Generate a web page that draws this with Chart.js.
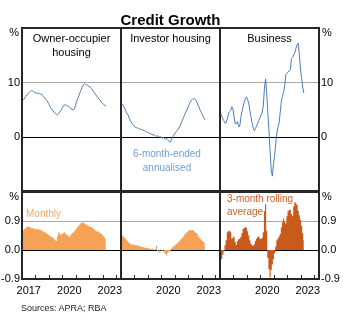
<!DOCTYPE html>
<html>
<head>
<meta charset="utf-8">
<script src="https://cdn.jsdelivr.net/npm/chart.js@4.4.1/dist/chart.umd.min.js"></script>
<style>
    body { margin: 0; background: #fff; font-family: Arial, "Liberation Sans", sans-serif; }
    #wrap { position: relative; width: 347px; height: 324px; overflow: hidden; background: #fff; }
    canvas { position: absolute; }
    .txt { position: absolute; white-space: nowrap; color: #000; }
    .line { position: absolute; background: #262626; z-index: 5; }
</style>
</head>
<body>
<div id="wrap">
    <canvas id="ooTop"></canvas>
    <canvas id="invTop"></canvas>
    <canvas id="busTop"></canvas>
    <canvas id="ooBottom"></canvas>
    <canvas id="invBottom"></canvas>
    <canvas id="busBottom"></canvas>

    <div class="line" style="left:21px; top:27px; width:299px; height:2px;"></div>
    <div class="line" style="left:21px; top:27px; width:2px; height:253px;"></div>
    <div class="line" style="left:318px; top:27px; width:2px; height:253px;"></div>
    <div class="line" style="left:120px; top:27px; width:2px; height:253px;"></div>
    <div class="line" style="left:219px; top:27px; width:2px; height:253px;"></div>
    <div class="line" style="left:21px; top:190px; width:299px; height:3px;"></div>
    <div class="line" style="left:21px; top:278px; width:299px; height:2px;"></div>

    <div class="txt" style="left:0; top:11px; width:341px; text-align:center; font-weight:bold; font-size:15px; line-height:18px;">Credit Growth</div>
    <div class="txt" style="left:22px; top:31px; width:99px; text-align:center; font-size:11px; line-height:14px;">Owner-occupier<br>housing</div>
    <div class="txt" style="left:121px; top:31px; width:99px; text-align:center; font-size:11px; line-height:14px;">Investor housing</div>
    <div class="txt" style="left:220px; top:31px; width:99px; text-align:center; font-size:11px; line-height:14px;">Business</div>

    <div class="txt" style="left:0; top:26px; width:19px; text-align:right; font-size:11px; line-height:13px;">%</div>
    <div class="txt" style="left:322px; top:26px; font-size:11px; line-height:13px;">%</div>
    <div class="txt" style="left:0; top:190px; width:19px; text-align:right; font-size:11px; line-height:13px;">%</div>
    <div class="txt" style="left:322px; top:190px; font-size:11px; line-height:13px;">%</div>

    <div class="txt" style="left:117px; top:147px; width:100px; text-align:center; font-size:10px; line-height:14px; color:#6f9fd0;">6-month-ended<br>annualised</div>
    <div class="txt" style="left:26px; top:208px; font-size:10px; line-height:12px; color:#f4a866;">Monthly</div>
    <div class="txt" style="left:227px; top:192px; font-size:10px; line-height:13px; color:#c9612a;">3-month rolling<br>average</div>
    <div class="txt" style="left:21px; top:303px; font-size:9px; line-height:11px; color:#222;">Sources: APRA; RBA</div>
</div>

<script>
const START_YEAR = 2017;
const X_MAX = 2024.33;

const firstPanelYears = [2017, 2020, 2023];
const otherPanelYears = [2020, 2023];

const upperTicks = [-10, 0, 10, 20];
const upperLabelled = [0, 10];
const lowerTicks = [-0.9, 0, 0.9, 1.8];
const lowerLabelled = [-0.9, 0, 0.9];

// six-month-ended annualised growth, %, monthly Jan 2017 - Mar 2023
const ownerOccAnnualised = [
    6.9, 6.9, 7.2, 7.5, 7.8, 8.0, 8.2, 8.4, 8.5, 8.5, 8.3, 8.2,
    8.1, 8.1, 8.0, 8.0, 7.9, 7.9, 7.6, 7.3, 7.1, 6.9, 6.6, 6.2,
    5.8, 5.4, 5.1, 4.8, 4.6, 4.4, 4.2, 4.1, 4.3, 4.6, 4.9, 5.3,
    5.6, 5.9, 6.0, 5.8, 5.7, 5.7, 5.5, 5.2, 5.1, 5.1, 5.2, 5.8,
    6.5, 7.1, 7.6, 8.2, 8.7, 9.2, 9.6, 9.8, 9.7, 9.6, 9.5, 9.3,
    9.2, 9.0, 8.7, 8.4, 8.1, 7.8, 7.5, 7.2, 7.0, 6.8, 6.4, 6.2,
    6.1, 5.8, 5.7,
];
const investorAnnualised = [
    6.2, 6.0, 5.6, 5.2, 4.7, 4.3, 4.0, 3.4, 3.0, 2.6, 2.3, 2.1,
    1.9, 1.8, 1.7, 1.6, 1.5, 1.5, 1.4, 1.3, 1.3, 1.1, 1.0, 0.9,
    0.9, 0.6, 0.7, 0.5, 0.4, 0.5, 0.3, 0.2, 0.3, 0.1, 0.05, 0.1,
    -0.2, 0.0, -0.2, -0.3, -0.2, -0.5, -0.7, -0.9, -0.6, -0.1, 0.3, 0.6,
    0.9, 1.2, 1.4, 1.7, 2.1, 2.6, 3.1, 3.6, 4.1, 4.6, 5.0, 5.5,
    6.0, 6.4, 6.8, 7.0, 7.1, 7.0, 6.8, 6.4, 5.9, 5.4, 4.9, 4.5,
    4.0, 3.6, 3.2,
];
const businessAnnualised = [
    4.4, 3.9, 3.4, 3.0, 2.6, 2.7, 3.3, 4.3, 4.7, 4.9, 5.6, 5.2,
    3.7, 2.5, 2.5, 2.9, 2.0, 2.0, 3.6, 4.7, 5.6, 6.4, 7.1, 7.4,
    6.9, 6.3, 5.0, 3.8, 2.7, 1.7, 1.2, 1.6, 2.1, 2.6, 3.1, 3.6,
    4.1, 4.6, 5.9, 9.0, 10.7, 8.0, 4.5, 1.3, -2.5, -6.0, -7.1, -5.0,
    -3.3, -1.2, 0.8, 1.8, 2.6, 4.5, 6.6, 7.5, 8.2, 9.5, 11.5, 11.7,
    11.9, 12.2, 12.4, 14.4, 14.6, 15.1, 15.5, 16.3, 16.9, 17.2, 15.2, 12.5,
    10.8, 9.2, 8.1,
];

// monthly growth, %
const ownerOccMonthly = [
    0.60, 0.62, 0.66, 0.70, 0.71, 0.74, 0.71, 0.70, 0.68, 0.67, 0.68, 0.64,
    0.66, 0.64, 0.66, 0.62, 0.63, 0.60, 0.58, 0.57, 0.55, 0.52, 0.50, 0.47,
    0.44, 0.42, 0.40, 0.38, 0.36, 0.30, 0.28, 0.43, 0.55, 0.50, 0.47, 0.49,
    0.52, 0.55, 0.53, 0.46, 0.48, 0.41, 0.43, 0.47, 0.52, 0.54, 0.58, 0.63,
    0.67, 0.72, 0.76, 0.80, 0.84, 0.86, 0.84, 0.82, 0.79, 0.80, 0.76, 0.74,
    0.73, 0.71, 0.70, 0.66, 0.64, 0.60, 0.58, 0.57, 0.55, 0.53, 0.50, 0.47,
    0.42, 0.38, 0.33,
];
const investorMonthly = [
    0.48, 0.45, 0.40, 0.37, 0.32, 0.28, 0.24, 0.22, 0.18, 0.16, 0.18, 0.15,
    0.16, 0.14, 0.16, 0.12, 0.13, 0.10, 0.11, 0.09, 0.08, 0.06, 0.08, 0.05,
    0.06, 0.03, 0.04, 0.02, 0.05, -0.01, 0.03, 0.13, -0.03, 0.01, -0.09, 0.02,
    -0.04, 0.00, -0.08, -0.12, -0.17, -0.10, -0.06, -0.03, 0.04, 0.08, 0.11, 0.13,
    0.17, 0.19, 0.22, 0.26, 0.30, 0.34, 0.38, 0.42, 0.47, 0.52, 0.55, 0.58,
    0.61, 0.62, 0.61, 0.62, 0.60, 0.57, 0.53, 0.52, 0.45, 0.38, 0.35, 0.30,
    0.28, 0.25, 0.22,
];
// business, 3-month rolling average of monthly growth, %
const businessRolling = [
    -0.32, -0.28, -0.15, -0.05, 0.15, 0.30, 0.55, 0.58, 0.60, 0.55, 0.35, 0.38,
    0.42, 0.25, 0.16, 0.28, 0.33, 0.35, 0.40, 0.52, 0.65, 0.68, 0.72, 0.68,
    0.58, 0.45, 0.30, 0.20, 0.15, 0.13, 0.18, 0.28, 0.35, 0.40, 0.42, 0.36,
    0.34, 0.38, 0.55, 1.20, 1.42, 0.60, -0.25, -0.60, -0.85, -0.62, -0.45, -0.28,
    -0.10, 0.10, 0.30, 0.36, 0.42, 0.50, 0.70, 0.86, 0.98, 0.88, 0.82, 1.05,
    1.20, 1.24, 1.25, 1.12, 1.05, 1.35, 1.48, 1.45, 1.40, 1.22, 1.08, 0.94,
    0.75, 0.52, 0.30,
];

const LINE_BLUE = "#4a7db6";
const ORANGE = "#f5a257";
const DARK_ORANGE = "#c85a1c";
const GRID_GREY = "#a9a9a9";
const FONT = { family: "Arial, 'Liberation Sans', sans-serif", size: 11 };

function toPoints(values) {
    return values.map((v, i) => ({ x: START_YEAR + (i + 0.5) / 12, y: v }));
}

function makePanel(id, area, opts) {
    const pad = 10;
    const yw = opts.yPos === "none" ? 0 : 22;
    const xh = opts.years ? 20 : 0;
    const canvas = document.getElementById(id);
    canvas.width = area.w + yw + pad * 2;
    canvas.height = area.h + xh + pad * 2;
    canvas.style.left = area.x - pad - (opts.yPos === "left" ? yw : 0) + "px";
    canvas.style.top = area.y - pad + "px";

    // monthly columns are drawn as one stepped, filled area so no seams show between them
    const dataset = opts.color
        ? {
              data: toPoints(opts.values),
              backgroundColor: opts.color,
              borderWidth: 0,
              pointRadius: 0,
              stepped: "middle",
              fill: "origin",
          }
        : {
              data: toPoints(opts.values),
              borderColor: LINE_BLUE,
              borderWidth: 1,
              pointRadius: 0,
              tension: 0,
              fill: false,
          };

    new Chart(canvas, {
        type: "line",
        data: { datasets: [dataset] },
        options: {
            responsive: false,
            animation: false,
            layout: { padding: pad },
            plugins: { legend: { display: false }, tooltip: { enabled: false } },
            scales: {
                x: {
                    type: "linear",
                    min: START_YEAR,
                    max: X_MAX,
                    offset: false,
                    display: !!opts.years,
                    border: { display: false },
                    grid: {
                        offset: false,
                        drawOnChartArea: false,
                        drawTicks: true,
                        tickLength: -4,
                        tickWidth: 1,
                        tickColor: (ctx) =>
                            ctx.tick && Number.isInteger(ctx.tick.value)
                                ? "#262626"
                                : "rgba(0,0,0,0)",
                    },
                    afterBuildTicks: (s) => {
                        const t = [];
                        for (let v = START_YEAR; v <= 2024; v += 0.5) t.push({ value: v });
                        s.ticks = t;
                    },
                    afterFit: (s) => {
                        s.height = xh;
                    },
                    ticks: {
                        autoSkip: false,
                        maxRotation: 0,
                        padding: 9,
                        color: "#000",
                        font: FONT,
                        callback: (v) => {
                            const year = Math.floor(v);
                            return v - year === 0.5 && opts.years && opts.years.includes(year)
                                ? String(year)
                                : "";
                        },
                    },
                },
                y: {
                    position: opts.yPos === "right" ? "right" : "left",
                    min: opts.ticks[0],
                    max: opts.ticks[opts.ticks.length - 1],
                    border: { display: false },
                    grid: {
                        drawTicks: false,
                        lineWidth: 1,
                        color: (ctx) => {
                            const v = ctx.tick ? ctx.tick.value : null;
                            if (v === 0) return "#000";
                            if (v === opts.ticks[2]) return GRID_GREY;
                            return "rgba(0,0,0,0)";
                        },
                    },
                    afterBuildTicks: (s) => {
                        s.ticks = opts.ticks.map((v) => ({ value: v }));
                    },
                    afterFit: (s) => {
                        s.width = yw;
                    },
                    ticks: {
                        display: opts.yPos !== "none",
                        padding: 2,
                        color: "#000",
                        font: FONT,
                        callback: (v) =>
                            opts.labelled.includes(v) ? (opts.decimals ? v.toFixed(1) : String(v)) : "",
                    },
                },
            },
        },
    });
}

const upper = { y: 28, h: 164 };
const lower = { y: 192, h: 87 };
const cols = [22, 121, 220];

makePanel("ooTop", { x: cols[0], w: 99, ...upper }, {
    values: ownerOccAnnualised, yPos: "left",
    ticks: upperTicks, labelled: upperLabelled,
});
makePanel("invTop", { x: cols[1], w: 99, ...upper }, {
    values: investorAnnualised, yPos: "none",
    ticks: upperTicks, labelled: upperLabelled,
});
makePanel("busTop", { x: cols[2], w: 99, ...upper }, {
    values: businessAnnualised, yPos: "right",
    ticks: upperTicks, labelled: upperLabelled,
});
makePanel("ooBottom", { x: cols[0], w: 99, ...lower }, {
    values: ownerOccMonthly, color: ORANGE, yPos: "left",
    ticks: lowerTicks, labelled: lowerLabelled, decimals: true, years: firstPanelYears,
});
makePanel("invBottom", { x: cols[1], w: 99, ...lower }, {
    values: investorMonthly, color: ORANGE, yPos: "none",
    ticks: lowerTicks, labelled: lowerLabelled, decimals: true, years: otherPanelYears,
});
makePanel("busBottom", { x: cols[2], w: 99, ...lower }, {
    values: businessRolling, color: DARK_ORANGE, yPos: "right",
    ticks: lowerTicks, labelled: lowerLabelled, decimals: true, years: otherPanelYears,
});
</script>
</body>
</html>
